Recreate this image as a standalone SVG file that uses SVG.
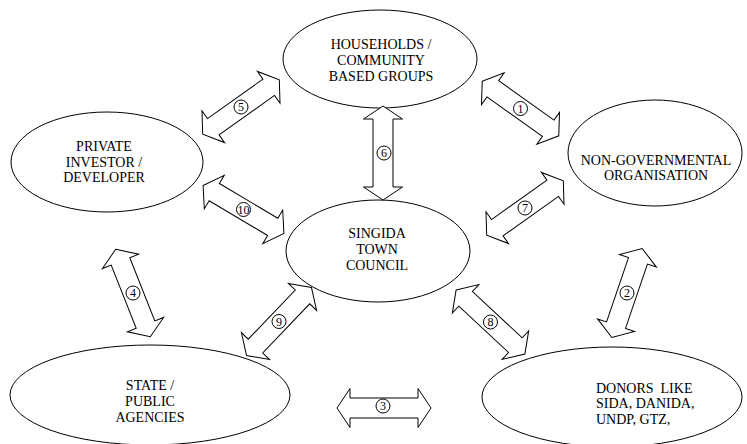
<svg xmlns="http://www.w3.org/2000/svg" xmlns:xlink="http://www.w3.org/1999/xlink" width="747" height="444" viewBox="0 0 747 444">
<style>
.node ellipse{fill:#fff;stroke:#000;stroke-width:1}
.node text{font-family:"Liberation Serif","Times New Roman",serif;font-size:14px;fill:#000;text-anchor:middle}
.arr{fill:#fff;stroke:#000;stroke-width:1;stroke-linejoin:miter}
.num circle{fill:#fff;stroke:#000;stroke-width:1}
.num text{font-family:"Liberation Serif","Times New Roman",serif;font-size:12px;fill:#000;text-anchor:middle}
</style>
<defs>
<path id="dbl" d="M -47 0 L -34 -19.5 L -34 -10 L 34 -10 L 34 -19.5 L 47 0 L 34 19.5 L 34 10 L -34 10 L -34 19.5 Z"/>
</defs>
<rect width="747" height="444" fill="#fff"/>
<g id="households" class="node">
<ellipse cx="380" cy="59" rx="97" ry="49"/>
<text x="381" y="49">HOUSEHOLDS /</text>
<text x="381" y="65">COMMUNITY</text>
<text x="381" y="81">BASED GROUPS</text>
</g>
<g id="private" class="node">
<ellipse cx="107" cy="162" rx="96" ry="50"/>
<text x="104" y="151">PRIVATE</text>
<text x="104" y="166.5">INVESTOR /</text>
<text x="104" y="182">DEVELOPER</text>
</g>
<g id="ngo" class="node">
<ellipse cx="655" cy="153" rx="87" ry="53"/>
<text x="656" y="165">NON-GOVERNMENTAL</text>
<text x="656" y="180">ORGANISATION</text>
</g>
<g id="singida" class="node">
<ellipse cx="378" cy="251" rx="92" ry="51"/>
<text x="377" y="238">SINGIDA</text>
<text x="377" y="254">TOWN</text>
<text x="377" y="270">COUNCIL</text>
</g>
<g id="state" class="node">
<ellipse cx="150" cy="395" rx="140" ry="50"/>
<text x="150" y="390">STATE /</text>
<text x="150" y="406">PUBLIC</text>
<text x="150" y="422">AGENCIES</text>
</g>
<g id="donors" class="node">
<ellipse cx="612" cy="397" rx="130" ry="50"/>
<text x="596" y="393" style="text-anchor:start;white-space:pre" xml:space="preserve">DONORS  LIKE</text>
<text x="596" y="408" style="text-anchor:start">SIDA, DANIDA,</text>
<text x="596" y="424" style="text-anchor:start">UNDP, GTZ,</text>
</g>
<g id="connectors">
<use xlink:href="#dbl" href="#dbl" class="arr" transform="translate(520.5 108.5) rotate(35.5)"/>
<use xlink:href="#dbl" href="#dbl" class="arr" transform="translate(627 293) rotate(108.8)"/>
<use xlink:href="#dbl" href="#dbl" class="arr" transform="translate(384 408)"/>
<use xlink:href="#dbl" href="#dbl" class="arr" transform="translate(133 293) rotate(68.4)"/>
<use xlink:href="#dbl" href="#dbl" class="arr" transform="translate(241 107) rotate(-35.4)"/>
<use xlink:href="#dbl" href="#dbl" class="arr" transform="translate(383 153) rotate(90)"/>
<use xlink:href="#dbl" href="#dbl" class="arr" transform="translate(525 208) rotate(-35.4)"/>
<use xlink:href="#dbl" href="#dbl" class="arr" transform="translate(490.5 322) rotate(43)"/>
<use xlink:href="#dbl" href="#dbl" class="arr" transform="translate(279 321.5) rotate(-46.3)"/>
<use xlink:href="#dbl" href="#dbl" class="arr" transform="translate(243.5 209.5) rotate(30.7)"/>
<g class="num"><circle cx="520.5" cy="108.5" r="7"/><text x="520.5" y="112.5">1</text></g>
<g class="num"><circle cx="627" cy="293" r="7"/><text x="627" y="297">2</text></g>
<g class="num"><circle cx="383" cy="406" r="7"/><text x="383" y="410">3</text></g>
<g class="num"><circle cx="133" cy="293" r="7"/><text x="133" y="297">4</text></g>
<g class="num"><circle cx="241" cy="107" r="7"/><text x="241" y="111">5</text></g>
<g class="num"><circle cx="384" cy="153" r="7"/><text x="384" y="157">6</text></g>
<g class="num"><circle cx="525" cy="208" r="7"/><text x="525" y="212">7</text></g>
<g class="num"><circle cx="490.5" cy="322" r="7"/><text x="490.5" y="326">8</text></g>
<g class="num"><circle cx="279" cy="321.5" r="7"/><text x="279" y="325.5">9</text></g>
<g class="num"><circle cx="243.5" cy="209.5" r="7"/><text x="243.5" y="213.5">10</text></g>
</g>
</svg>
